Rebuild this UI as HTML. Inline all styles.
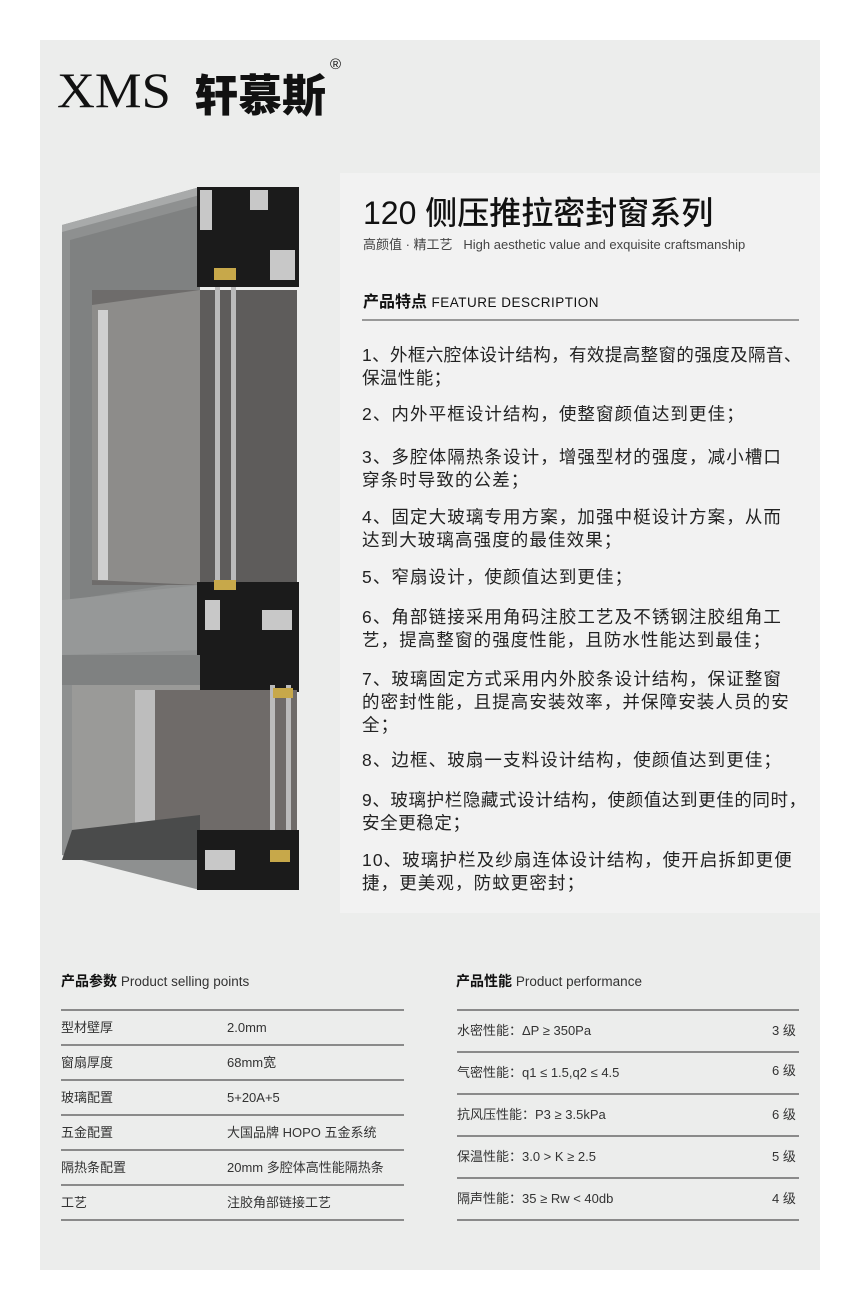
<!DOCTYPE html>
<html><head><meta charset="utf-8"><style>
*{margin:0;padding:0;box-sizing:border-box}
body{width:860px;height:1311px;background:#fff;position:relative;font-family:"Liberation Sans","Noto Sans CJK SC",sans-serif;color:#222;overflow:hidden}
.panel{position:absolute;left:40px;top:40px;width:780px;height:1230px;background:#ecedec}
.abs{position:absolute}
.rbox{position:absolute;left:340px;top:173px;width:480px;height:740px;background:#f2f2f2}
.feat{position:absolute;left:362px;width:460px;font-size:17.5px;line-height:23px;color:#222;white-space:nowrap;letter-spacing:1.1px}
.tl{position:absolute;height:2px;background:#8a8a8a}
.t13{position:absolute;font-size:13px;line-height:16px;color:#333;white-space:nowrap}
</style></head><body>
<div class="panel"></div>
<div class="rbox"></div>
<div class="abs" style="left:57px;top:62px;font-family:'Liberation Serif',serif;font-size:50px;color:#111;line-height:56px;transform:scaleX(1.05);transform-origin:left">XMS</div>
<div class="abs" style="left:194px;top:66px;font-family:'Noto Sans CJK SC',sans-serif;font-weight:900;font-size:44px;color:#111;line-height:52px">轩慕斯</div>
<div class="abs" style="left:330px;top:56px;font-size:15px;color:#111">®</div>

<div class="abs" style="left:363px;top:188px;font-size:32px;font-weight:500;color:#111;font-family:'Liberation Sans','Noto Sans CJK SC',sans-serif">120 侧压推拉密封窗系列</div>
<div class="abs" style="left:363px;top:234px;font-size:13px;color:#444">高颜值 · 精工艺&nbsp;&nbsp;&nbsp;High aesthetic value and exquisite craftsmanship</div>
<div class="abs" style="left:363px;top:288px;font-size:16px;font-weight:bold;color:#111">产品特点 <span style="font-weight:normal;font-size:13.5px;letter-spacing:.5px">FEATURE DESCRIPTION</span></div>
<div class="tl" style="left:362px;top:319px;width:437px;height:2px;background:#999"></div>

<div class="feat" style="top:344px;letter-spacing:0.4px">1、外框六腔体设计结构，有效提高整窗的强度及隔音、<br>保温性能；</div>
<div class="feat" style="top:403px">2、内外平框设计结构，使整窗颜值达到更佳；</div>
<div class="feat" style="top:446px">3、多腔体隔热条设计，增强型材的强度，减小槽口<br>穿条时导致的公差；</div>
<div class="feat" style="top:506px">4、固定大玻璃专用方案，加强中梃设计方案，从而<br>达到大玻璃高强度的最佳效果；</div>
<div class="feat" style="top:566px">5、窄扇设计，使颜值达到更佳；</div>
<div class="feat" style="top:606px">6、角部链接采用角码注胶工艺及不锈钢注胶组角工<br>艺，提高整窗的强度性能，且防水性能达到最佳；</div>
<div class="feat" style="top:668px">7、玻璃固定方式采用内外胶条设计结构，保证整窗<br>的密封性能，且提高安装效率，并保障安装人员的安<br>全；</div>
<div class="feat" style="top:749px">8、边框、玻扇一支料设计结构，使颜值达到更佳；</div>
<div class="feat" style="top:789px;letter-spacing:0.6px">9、玻璃护栏隐藏式设计结构，使颜值达到更佳的同时，<br>安全更稳定；</div>
<div class="feat" style="top:849px">10、玻璃护栏及纱扇连体设计结构，使开启拆卸更便<br>捷，更美观，防蚊更密封；</div>

<!-- window illustration -->
<svg class="abs" style="left:0;top:0" width="340" height="920">
<polygon points="62,225 200,187 200,890 62,855" fill="#8e9090"/>
<polygon points="62,225 200,187 200,195 62,232" fill="#a8aaaa"/>
<polygon points="70,240 200,205 200,580 70,600" fill="#7f8181"/>
<rect x="92" y="290" width="205" height="295" fill="#6e6c6b"/>
<polygon points="92,305 200,290 200,585 92,580" fill="#8d8c8a"/>
<rect x="98" y="310" width="10" height="270" fill="#cfcfcf"/>
<rect x="200" y="290" width="97" height="295" fill="#5e5c5b"/>
<rect x="215" y="262" width="5" height="325" fill="#bbb"/>
<rect x="231" y="262" width="5" height="325" fill="#bbb"/>
<rect x="197" y="187" width="102" height="100" fill="#1b1b1b"/>
<rect x="200" y="190" width="12" height="40" fill="#c8c8c8"/>
<rect x="250" y="190" width="18" height="20" fill="#c8c8c8"/>
<rect x="270" y="250" width="25" height="30" fill="#c8c8c8"/>
<rect x="214" y="268" width="22" height="12" fill="#c7a84a"/>
<polygon points="62,600 200,585 200,650 62,655" fill="#969898"/>
<rect x="197" y="582" width="102" height="110" fill="#1b1b1b"/>
<rect x="214" y="580" width="22" height="10" fill="#c7a84a"/>
<rect x="205" y="600" width="15" height="30" fill="#c8c8c8"/>
<rect x="262" y="610" width="30" height="20" fill="#c8c8c8"/>
<rect x="62" y="655" width="138" height="30" fill="#7f8181"/>
<rect x="72" y="685" width="128" height="145" fill="#9a9a98"/>
<rect x="135" y="690" width="20" height="135" fill="#bdbdbd"/>
<rect x="155" y="690" width="142" height="140" fill="#6f6b69"/>
<rect x="270" y="685" width="5" height="170" fill="#bbb"/>
<rect x="286" y="685" width="5" height="170" fill="#bbb"/>
<rect x="273" y="688" width="20" height="10" fill="#c7a84a"/>
<polygon points="72,830 200,815 200,860 62,860" fill="#4a4b4b"/>
<rect x="197" y="830" width="102" height="60" fill="#1b1b1b"/>
<rect x="205" y="850" width="30" height="20" fill="#c8c8c8"/>
<rect x="270" y="850" width="20" height="12" fill="#c7a84a"/>
</svg>

<!-- left table -->
<div class="abs" style="left:61px;top:971px;font-size:14px;font-weight:bold;color:#111">产品参数 <span style="font-weight:normal;font-size:13.5px;color:#333">Product selling points</span></div>
<div class="tl" style="left:61px;top:1009px;width:343px"></div>
<div class="t13" style="left:61px;top:1020px">型材壁厚</div><div class="t13" style="left:227px;top:1020px">2.0mm</div>
<div class="tl" style="left:61px;top:1044px;width:343px"></div>
<div class="t13" style="left:61px;top:1055px">窗扇厚度</div><div class="t13" style="left:227px;top:1055px">68mm宽</div>
<div class="tl" style="left:61px;top:1079px;width:343px"></div>
<div class="t13" style="left:61px;top:1090px">玻璃配置</div><div class="t13" style="left:227px;top:1090px">5+20A+5</div>
<div class="tl" style="left:61px;top:1114px;width:343px"></div>
<div class="t13" style="left:61px;top:1125px">五金配置</div><div class="t13" style="left:227px;top:1125px">大国品牌 HOPO 五金系统</div>
<div class="tl" style="left:61px;top:1149px;width:343px"></div>
<div class="t13" style="left:61px;top:1160px">隔热条配置</div><div class="t13" style="left:227px;top:1160px">20mm 多腔体高性能隔热条</div>
<div class="tl" style="left:61px;top:1184px;width:343px"></div>
<div class="t13" style="left:61px;top:1195px">工艺</div><div class="t13" style="left:227px;top:1195px">注胶角部链接工艺</div>
<div class="tl" style="left:61px;top:1219px;width:343px"></div>

<!-- right table -->
<div class="abs" style="left:456px;top:971px;font-size:14px;font-weight:bold;color:#111">产品性能 <span style="font-weight:normal;font-size:13.5px;color:#333">Product performance</span></div>
<div class="tl" style="left:457px;top:1009px;width:342px"></div>
<div class="t13" style="left:457px;top:1023px">水密性能：ΔP ≥ 350Pa</div><div class="t13" style="left:772px;top:1023px">3 级</div>
<div class="tl" style="left:457px;top:1051px;width:342px"></div>
<div class="t13" style="left:457px;top:1065px">气密性能：q1 ≤ 1.5,q2 ≤ 4.5</div><div class="t13" style="left:772px;top:1063px">6 级</div>
<div class="tl" style="left:457px;top:1093px;width:342px"></div>
<div class="t13" style="left:457px;top:1107px">抗风压性能：P3 ≥ 3.5kPa</div><div class="t13" style="left:772px;top:1107px">6 级</div>
<div class="tl" style="left:457px;top:1135px;width:342px"></div>
<div class="t13" style="left:457px;top:1149px">保温性能：3.0 &gt; K ≥ 2.5</div><div class="t13" style="left:772px;top:1149px">5 级</div>
<div class="tl" style="left:457px;top:1177px;width:342px"></div>
<div class="t13" style="left:457px;top:1191px">隔声性能：35 ≥ Rw &lt; 40db</div><div class="t13" style="left:772px;top:1191px">4 级</div>
<div class="tl" style="left:457px;top:1219px;width:342px"></div>
</body></html>
